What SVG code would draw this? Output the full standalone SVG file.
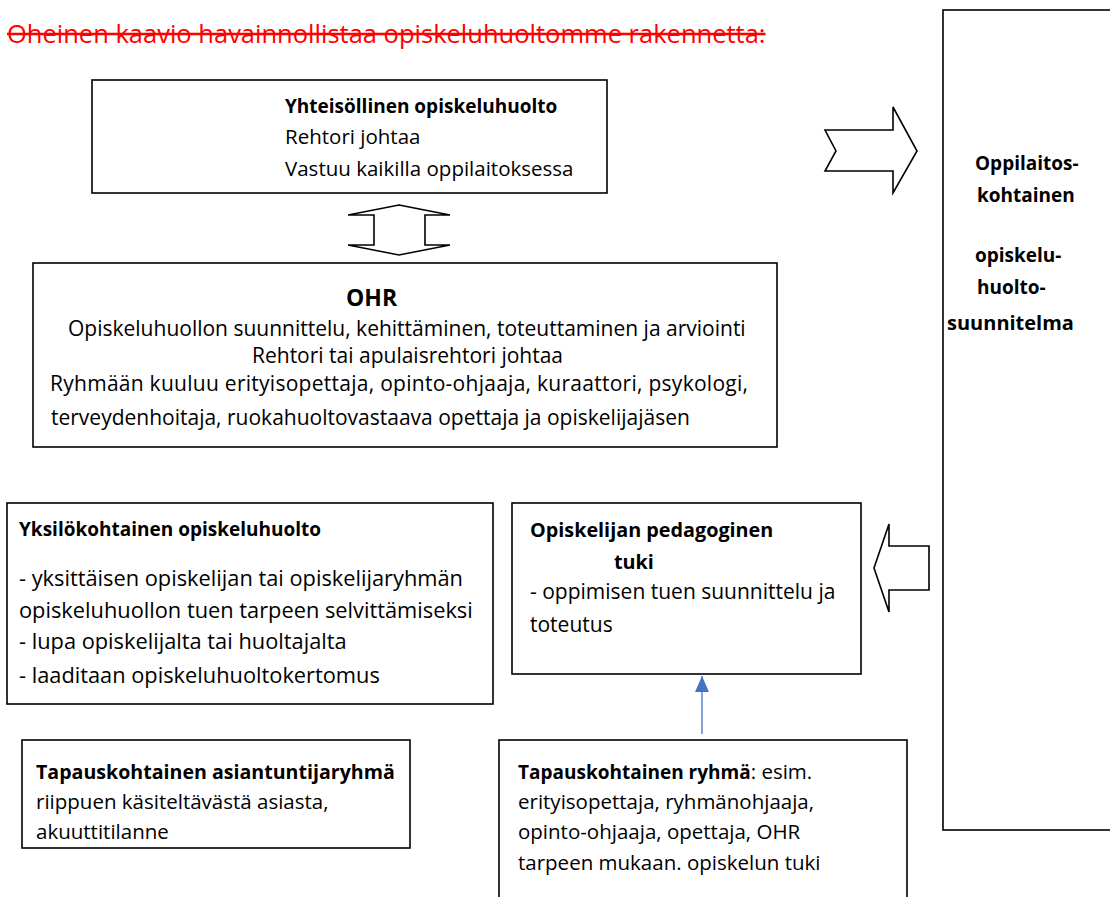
<svg xmlns="http://www.w3.org/2000/svg" width="1110" height="897" viewBox="0 0 1110 897">
<defs>
<style>
text{font-family:"Open Sans","Liberation Sans",Arial,sans-serif;font-size:20.5px;fill:#000}
.b{font-weight:bold;font-size:19px}
.box{fill:#fff;stroke:#000;stroke-width:1.6}
.blk{fill:#fff;stroke:#000;stroke-width:1.6;stroke-linejoin:miter}
.title{font-size:25.5px;fill:#f00;text-decoration:line-through}
.m{font-size:21px}
.l{font-size:21.8px}
.bb{font-size:19.8px}
</style>
<marker id="ah" viewBox="0 0 16 14" refX="16" refY="7" markerWidth="16" markerHeight="14" markerUnits="userSpaceOnUse" orient="auto">
<path d="M0,0 L16,7 L0,14 z" fill="#4472C4"/>
</marker>
</defs>
<rect width="1110" height="897" fill="#fff"/>
<text class="title" x="7" y="43">Oheinen kaavio havainnollistaa opiskeluhuoltomme rakennetta:</text>

<g id="yhteisollinen">
<rect class="box" x="92" y="80" width="515" height="113"/>
<text class="b" x="285" y="113">Yhteisöllinen opiskeluhuolto</text>
<text x="285" y="144">Rehtori johtaa</text>
<text x="285" y="176">Vastuu kaikilla oppilaitoksessa</text>
</g>

<g id="ohr">
<rect class="box" x="33" y="263" width="744" height="184"/>
<text class="b" x="346" y="306" style="font-size:23px">OHR</text>
<text class="m" x="68" y="336">Opiskeluhuollon suunnittelu, kehittäminen, toteuttaminen ja arviointi</text>
<text class="m" x="252" y="363">Rehtori tai apulaisrehtori johtaa</text>
<text class="m" x="50" y="391" textLength="698">Ryhmään kuuluu erityisopettaja, opinto-ohjaaja, kuraattori, psykologi,</text>
<text class="m" x="51" y="425">terveydenhoitaja, ruokahuoltovastaava opettaja ja opiskelijajäsen</text>
</g>

<g id="suunnitelma">
<rect class="box" x="943" y="10" width="180" height="820"/>
<text class="b" x="975" y="170">Oppilaitos-</text>
<text class="b" x="977" y="202">kohtainen</text>
<text class="b" x="975" y="262">opiskelu-</text>
<text class="b" x="977" y="294">huolto-</text>
<text class="b" x="947" y="330" style="font-size:20px">suunnitelma</text>
</g>

<g id="yksilokohtainen">
<rect class="box" x="7" y="503" width="486" height="201"/>
<text class="b" x="19" y="536">Yksilökohtainen opiskeluhuolto</text>
<text class="l" x="19" y="586">- yksittäisen opiskelijan tai opiskelijaryhmän</text>
<text class="l" x="19" y="618">opiskeluhuollon tuen tarpeen selvittämiseksi</text>
<text class="l" x="19" y="649">- lupa opiskelijalta tai huoltajalta</text>
<text class="l" x="19" y="683">- laaditaan opiskeluhuoltokertomus</text>
</g>

<g id="pedagoginen">
<rect class="box" x="512" y="503" width="349" height="171"/>
<text class="b bb" x="530" y="537">Opiskelijan pedagoginen</text>
<text class="b bb" x="614" y="569">tuki</text>
<text class="m" x="530" y="599">- oppimisen tuen suunnittelu ja</text>
<text class="m" x="530" y="632">toteutus</text>
</g>

<g id="asiantuntijaryhma">
<rect class="box" x="22" y="740" width="388" height="108"/>
<text class="b" x="36" y="779" style="font-size:19.6px">Tapauskohtainen asiantuntijaryhmä</text>
<text x="36" y="809">riippuen käsiteltävästä asiasta,</text>
<text x="36" y="839">akuuttitilanne</text>
</g>

<g id="ryhma">
<rect class="box" x="499" y="740" width="408" height="170"/>
<text x="518" y="779"><tspan class="b">Tapauskohtainen ryhmä</tspan>: esim.</text>
<text x="518" y="809">erityisopettaja, ryhmänohjaaja,</text>
<text x="518" y="839">opinto-ohjaaja, opettaja, OHR</text>
<text x="518" y="870">tarpeen mukaan. opiskelun tuki</text>
</g>

<g id="connectors">
<polygon class="blk" points="399,205 450,215 425,215 425,245 450,245 399,255 348,245 374,245 374,215 348,215"/>
<polygon class="blk" points="825,130 893,130 893,107 917,151 893,193 893,171 825,171 836,151"/>
<polygon class="blk" points="874,568 889,524 889,546 929,546 929,590 889,590 889,612"/>
<line x1="702" y1="734" x2="702" y2="676" stroke="#4472C4" stroke-width="1.3" marker-end="url(#ah)"/>
</g>
</svg>
